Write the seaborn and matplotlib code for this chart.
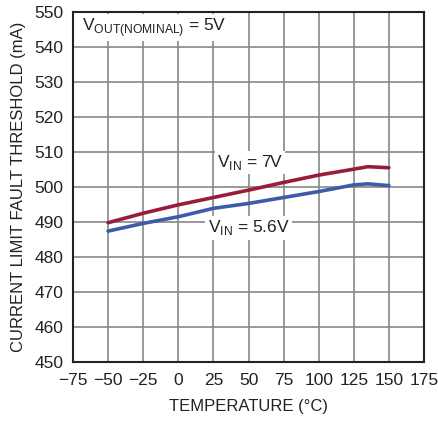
import matplotlib
matplotlib.use("Agg")
import matplotlib.pyplot as plt
import seaborn as sns
import pandas as pd

temps = [-50, -25, 0, 25, 50, 75, 100, 125, 135, 150]
vin_7 = [489.8, 492.5, 494.9, 497.0, 499.1, 501.3, 503.4, 505.1, 505.8, 505.5]
vin_56 = [487.4, 489.6, 491.5, 493.9, 495.3, 497.0, 498.7, 500.6, 500.9, 500.4]

x_ticks = [-75, -50, -25, 0, 25, 50, 75, 100, 125, 150, 175]
y_ticks = [450, 460, 470, 480, 490, 500, 510, 520, 530, 540, 550]

sns.set_theme(style="white")
plt.rcParams['font.family'] = ['Liberation Sans', 'DejaVu Sans']

df = pd.DataFrame({
    "temp": temps * 2,
    "current": vin_7 + vin_56,
    "vin": ["7V"] * len(temps) + ["5.6V"] * len(temps),
})

fig = plt.figure(figsize=(4.38, 4.23), dpi=100)
ax = fig.add_axes([73 / 438, 1 - 362 / 423, 351 / 438, 350 / 423])

sns.lineplot(data=df, x="temp", y="current", hue="vin",
             palette={"7V": "#9b1b3b", "5.6V": "#3e5ba9"},
             linewidth=2.6, legend=False, ax=ax)

ax.set_xlim(-75, 175)
ax.set_ylim(450, 550)
ax.set_xticks(x_ticks)
ax.set_yticks(y_ticks)
ax.set_xticklabels([str(t).replace("-", "\u2212") for t in x_ticks])
ax.grid(True, color="#888888", linewidth=1.2)
ax.set_axisbelow(True)
for s in ax.spines.values():
    s.set_color("#222222")
    s.set_linewidth(1.5)
ax.tick_params(axis="x", labelsize=12.5, length=0, pad=8, colors="#222222")
ax.tick_params(axis="y", labelsize=12.5, length=0, pad=7, colors="#222222")
ax.set_xlabel("TEMPERATURE (°C)", fontsize=12, color="#222222", labelpad=8)
ax.set_ylabel("CURRENT LIMIT FAULT THRESHOLD (mA)", fontsize=12, color="#222222", labelpad=6)

box = dict(facecolor="white", edgecolor="none", pad=1.5)
ax.text(-68.5, 545.5, r"V$_{\mathregular{OUT(NOMINAL)}}$ = 5V", fontsize=12.5,
        ha="left", va="center", color="#222222", bbox=box)
ax.text(51, 507.0, r"V$_{\mathregular{IN}}$ = 7V", fontsize=12.5,
        ha="center", va="center", color="#222222", bbox=box)
ax.text(50, 488.3, r"V$_{\mathregular{IN}}$ = 5.6V", fontsize=12.5,
        ha="center", va="center", color="#222222", bbox=box)

fig.savefig("out.png", dpi=100)
